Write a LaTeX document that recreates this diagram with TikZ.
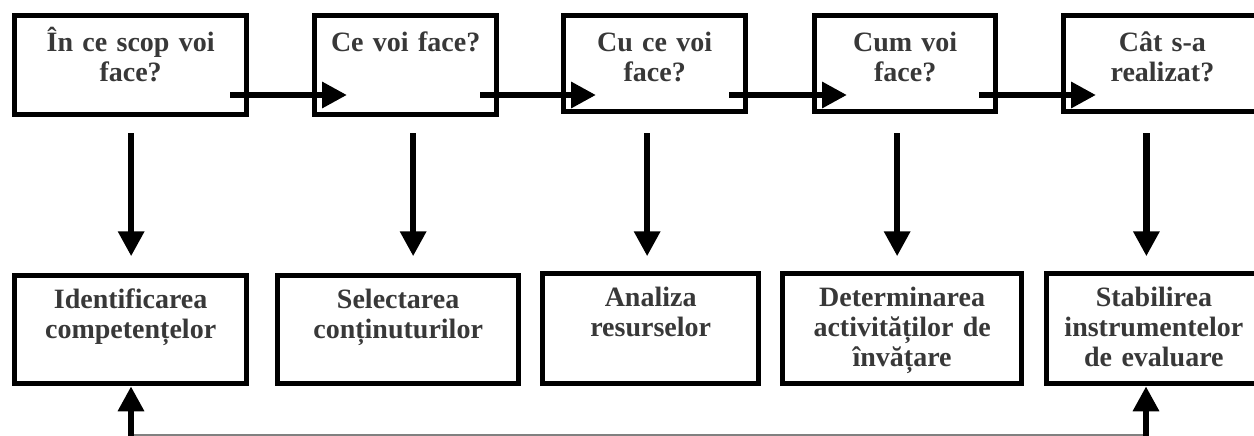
\documentclass[tikz,border=0pt]{standalone}
\usepackage{fontspec}
\setmainfont{Liberation Serif}
\usetikzlibrary{arrows.meta}
\definecolor{textgray}{gray}{0.22}

\begin{document}
\begin{tikzpicture}[
        x=1pt, y=1pt,
        box/.style={draw, line width=5.3pt, anchor=north west, inner sep=0pt,
          align=center, text=textgray, font=\bfseries\fontsize{28}{30}\selectfont},
        flow/.style={line width=6.5pt, -{Triangle[length=25pt,width=25pt]}},
        back/.style={draw=gray, line width=1.2pt}
      ]
        \clip (0,0) rectangle (1254,-436);
        \node[box, text width=232pt, text height=35.5pt, text depth=63.5pt] (q1) at (12,-13) {În ce scop voi\\ face?};
        \node[box, text width=182pt, text height=35.5pt, text depth=63.5pt] (q2) at (312,-13) {Ce voi face?};
        \node[box, text width=182pt, text height=35.5pt, text depth=60.5pt] (q3) at (561,-13) {Cu ce voi\\ face?};
        \node[box, text width=181pt, text height=35.5pt, text depth=60.5pt] (q4) at (812,-13) {Cum voi\\ face?};
        \node[box, text width=197.5pt, text height=35.5pt, text depth=60.5pt] (q5) at (1061,-13) {Cât s-a\\ realizat?};

        \node[box, text width=232pt, text height=32.5pt, text depth=75.5pt] (s1) at (12,-273) {Identificarea\\ competențelor};
        \node[box, text width=241pt, text height=32.5pt, text depth=75.5pt] (s2) at (275,-273) {Selectarea\\ conținuturilor};
        \node[box, text width=216pt, text height=32.5pt, text depth=77.5pt] (s3) at (540,-271) {Analiza\\ resurselor};
        \node[box, text width=239pt, text height=32.5pt, text depth=77.5pt] (s4) at (780,-271) {Determinarea\\ activităților de\\ învățare};
        \node[box, text width=214.5pt, text height=32.5pt, text depth=77.5pt] (s5) at (1044,-271) {Stabilirea\\ instrumentelor\\ de evaluare};

        \coordinate (row) at (0,-95);
        \draw[flow] ([xshift=-19pt]q1.east |- row) -- ([xshift=35pt]q2.west |- row);
        \draw[flow] ([xshift=-19pt]q2.east |- row) -- ([xshift=35pt]q3.west |- row);
        \draw[flow] ([xshift=-19pt]q3.east |- row) -- ([xshift=35pt]q4.west |- row);
        \draw[flow] ([xshift=-19pt]q4.east |- row) -- ([xshift=35pt]q5.west |- row);

        \draw[flow] ([shift={(0.5,-16)}]q1.south) -- ++(0,-123);
        \draw[flow] ([shift={(7.5,-16)}]q2.south) -- ++(0,-123);
        \draw[flow] ([shift={(-7.5,-19)}]q3.south) -- ++(0,-123);
        \draw[flow] ([shift={(-8,-19)}]q4.south) -- ++(0,-123);
        \draw[flow] ([shift={(-16,-19)}]q5.south) -- ++(0,-123);

        \coordinate (f1) at (131,-435);
        \coordinate (f5) at (1146,-435);
        \draw[back] (f1) -- (f5);
        \draw[flow] (f1) ++(0,-6) -- (f1 |- s1.south);
        \draw[flow] (f5) ++(0,-6) -- (f5 |- s5.south);
      \end{tikzpicture}
\end{document}
